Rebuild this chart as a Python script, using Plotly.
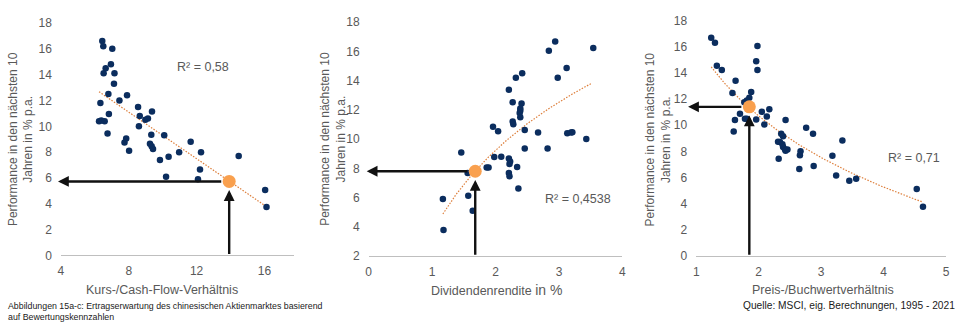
import numpy as np
import plotly.graph_objects as go

# --- Kurs-/Cash-Flow-Verhältnis vs. Performance der nächsten 10 Jahre ---
kcf_x = [6.44, 6.50, 7.03, 6.95, 6.64, 6.52, 7.16, 7.13, 6.80, 7.45, 7.90, 6.33, 6.83, 6.25,
         6.38, 6.58, 6.75, 8.55, 8.65, 8.60, 8.98, 9.13, 9.37, 9.33, 7.85, 7.75, 8.02, 9.25,
         9.35, 9.43, 10.09, 9.84, 10.35, 10.20, 10.97, 11.65, 12.26, 12.20, 12.08, 14.48,
         16.04, 16.12]
kcf_y = [16.6, 16.2, 16.0, 14.8, 14.5, 14.1, 14.1, 13.3, 12.5, 12.0, 12.4, 11.8, 10.95, 10.4,
         10.45, 10.4, 9.45, 11.5, 10.8, 10.0, 10.5, 10.6, 11.15, 9.35, 9.05, 8.75, 8.1, 8.65,
         8.45, 8.25, 9.3, 7.4, 7.65, 6.1, 8.0, 8.8, 8.0, 6.65, 5.9, 7.7,
         5.07, 3.75]
kcf_now = (13.92, 5.73)
kcf_trend = (18.31, -0.9015)          # linear: a + b*x
kcf_trend_span = (6.25, 16.2)
kcf_r2 = "R² = 0,58"

# --- Dividendenrendite vs. Performance ---
dy_x = [2.94, 2.84, 3.54, 3.12, 2.98, 2.32, 2.42, 2.21, 2.27, 2.41, 2.39, 2.39, 2.38, 2.39,
        2.27, 2.28, 1.96, 2.04, 2.46, 2.67, 3.13, 3.19, 3.21, 3.43, 2.46, 2.82, 1.46, 1.98,
        2.09, 2.21, 2.23, 2.22, 1.86, 1.89, 2.34, 2.21, 2.22, 1.56, 2.36, 1.57, 1.17, 1.64,
        1.18]
dy_y = [16.67, 16.04, 16.23, 14.86, 14.2, 14.2, 14.5, 13.37, 12.52, 12.43, 12.09, 11.93, 11.78,
        11.5, 11.21, 11.02, 10.84, 10.54, 10.62, 10.45, 10.4, 10.45, 10.47, 10.01, 9.36, 9.36,
        9.09, 8.77, 8.79, 8.68, 8.46, 8.29, 8.05, 8.05, 8.09, 7.68, 7.46, 7.68, 6.63, 6.13,
        5.91, 5.1, 3.79]
dy_now = (1.68, 7.8)
dy_trend = (3.606, 8.124)             # logarithmic: a + b*ln(x)
dy_trend_span = (1.17, 3.52)
dy_r2 = "R² = 0,4538"

# --- Preis-/Buchwertverhältnis vs. Performance ---
pb_x = [1.24, 1.30, 1.33, 1.41, 1.98, 1.96, 1.98, 1.63, 1.58, 1.88, 1.85, 1.81, 1.77, 1.70,
        1.62, 1.60, 1.78, 1.81, 1.96, 2.05, 2.17, 2.13, 2.09, 2.43, 2.36, 2.39, 2.31, 2.34,
        2.38, 2.39, 2.42, 2.46, 2.43, 2.32, 2.76, 2.87, 3.34, 2.67, 2.66, 2.65, 2.88, 3.18,
        3.24, 3.45, 3.56, 4.53, 4.63]
pb_y = [16.68, 16.29, 14.54, 14.22, 16.05, 14.88, 14.22, 13.39, 12.46, 12.54, 12.1, 11.88,
        11.75, 10.88, 10.39, 9.51, 10.49, 10.49, 10.44, 11.02, 11.22, 10.66, 10.05, 10.39,
        9.34, 9.15, 8.73, 8.71, 8.54, 8.34, 8.17, 8.15, 8.05, 7.44, 9.80, 9.34, 8.83, 8.0,
        7.71, 6.66, 6.88, 7.66, 6.15, 5.76, 5.90, 5.12, 3.78]
pb_now = (1.85, 11.4)
pb_trend = (16.14, -7.84)             # logarithmic: a + b*ln(x)
pb_trend_span = (1.24, 4.62)
pb_r2 = "R² = 0,71"

y_title = "Performance in den nächsten 10<br>Jahren in % p.a."

NAVY = "#0B2D5E"
ORANGE = "#F9A04E"
TREND = "#DD7E3A"
GREY = "#595959"
FONT = "Liberation Sans, Arial, sans-serif"

W, H = 963, 335

fig = go.Figure()

panels = [
    dict(x=kcf_x, y=kcf_y, now=kcf_now, trend=kcf_trend, span=kcf_trend_span, kind="lin",
         r2=kcf_r2, r2pos=(12.4, 14.56), xr=[4, 17.75], x0=4, dx=4, yr=[0, 18],
         xdom=(58.3, 293.3), ydom=(259.3, 16.7),
         xtitle="Kurs-/Cash-Flow-Verhältnis", xtitle_c=160, ytitle_c=18,
         harrow_tip=3.83),
    dict(x=dy_x, y=dy_y, now=dy_now, trend=dy_trend, span=dy_trend_span, kind="log",
         r2=dy_r2, r2pos=(3.30, 5.93), xr=[0, 4], x0=0, dx=1, yr=[2, 18],
         xdom=(368.3, 624.0), ydom=(260.0, 15.7),
         xtitle="Dividendenrendite <span style='font-size:14px'>in %</span>",
         xtitle_c=497, ytitle_c=333, harrow_tip=-0.03),
    dict(x=pb_x, y=pb_y, now=pb_now, trend=pb_trend, span=pb_trend_span, kind="log",
         r2=pb_r2, r2pos=(4.48, 7.53), xr=[1, 5], x0=1, dx=1, yr=[0, 18],
         xdom=(698.3, 950.0), ydom=(260.0, 14.0),
         xtitle="Preis-/Buchwertverhältnis", xtitle_c=826, ytitle_c=660,
         harrow_tip=0.87),
]

annotations = []
for i, p in enumerate(panels, start=1):
    xa = "x" if i == 1 else f"x{i}"
    ya = "y" if i == 1 else f"y{i}"

    # trend line from the regression coefficients
    tx = np.linspace(p["span"][0], p["span"][1], 120)
    a, b = p["trend"]
    ty = a + b * tx if p["kind"] == "lin" else a + b * np.log(tx)
    fig.add_trace(go.Scatter(x=tx, y=ty, mode="lines", xaxis=xa, yaxis=ya,
                             line=dict(color=TREND, width=1.2, dash="1.5px,1.5px"),
                             hoverinfo="skip", showlegend=False))
    # observations
    fig.add_trace(go.Scatter(x=p["x"], y=p["y"], mode="markers", xaxis=xa, yaxis=ya,
                             marker=dict(color=NAVY, size=6.5), showlegend=False))

    # pixel-to-data helpers for arrow geometry
    px_per_x = (p["xdom"][1] - p["xdom"][0]) / (p["xr"][1] - p["xr"][0])
    px_per_y = (p["ydom"][0] - p["ydom"][1]) / (p["yr"][1] - p["yr"][0])
    nx, ny = p["now"]
    r_px = 6.5

    # horizontal arrow to the y axis
    annotations.append(dict(x=p["harrow_tip"], y=ny, ax=nx - r_px / px_per_x, ay=ny,
                            xref=xa, yref=ya, axref=xa, ayref=ya, text="",
                            showarrow=True, arrowhead=2, arrowsize=0.9, arrowwidth=2.4,
                            arrowcolor="#111111", standoff=0, startstandoff=0))
    # vertical arrow from the x axis
    annotations.append(dict(x=nx, y=ny - (r_px + 2.5) / px_per_y, ax=nx, ay=p["yr"][0],
                            xref=xa, yref=ya, axref=xa, ayref=ya, text="",
                            showarrow=True, arrowhead=2, arrowsize=0.9, arrowwidth=2.4,
                            arrowcolor="#111111", standoff=0, startstandoff=0))

    # R² label
    annotations.append(dict(x=p["r2pos"][0], y=p["r2pos"][1], xref=xa, yref=ya,
                            text=p["r2"], showarrow=False,
                            font=dict(family=FONT, size=12.5, color=GREY)))
    # axis titles
    annotations.append(dict(x=p["xtitle_c"] / W, y=1 - 295 / H, xref="paper", yref="paper",
                            text=p["xtitle"], showarrow=False, xanchor="center",
                            yanchor="middle", font=dict(family=FONT, size=12.5, color=GREY)))
    annotations.append(dict(x=p["ytitle_c"] / W, y=1 - 138 / H, xref="paper", yref="paper",
                            text=y_title, showarrow=False, textangle=-90,
                            xanchor="center", yanchor="middle",
                            font=dict(family=FONT, size=12, color=GREY)))

    axis_common = dict(showgrid=False, zeroline=False, ticks="",
                       tickfont=dict(family=FONT, size=12, color=GREY))
    fig.update_layout({
        f"xaxis{'' if i == 1 else i}": dict(
            axis_common, domain=[p["xdom"][0] / W, p["xdom"][1] / W], range=p["xr"],
            tick0=p["x0"], dtick=p["dx"], anchor=ya, showline=True,
            linecolor="#BFBFBF", linewidth=1, ticklabelstandoff=4),
        f"yaxis{'' if i == 1 else i}": dict(
            axis_common, domain=[1 - p["ydom"][0] / H, 1 - p["ydom"][1] / H], range=p["yr"],
            dtick=2, anchor=xa, showline=False, ticklabelstandoff=8),
    })

# the current valuation points sit on top of everything else
for i, p in enumerate(panels, start=1):
    xa = "x" if i == 1 else f"x{i}"
    ya = "y" if i == 1 else f"y{i}"
    fig.add_trace(go.Scatter(x=[p["now"][0]], y=[p["now"][1]], mode="markers",
                             xaxis=xa, yaxis=ya, cliponaxis=False,
                             marker=dict(color=ORANGE, size=13), showlegend=False))

# footnotes
note_font = dict(family=FONT, size=8.8, color="#1A1A1A")
annotations.append(dict(x=3 / W, y=1 - 312 / H, xref="paper", yref="paper",
                        text="Abbildungen 15a-c: Ertragserwartung des chinesischen Aktienmarktes basierend",
                        showarrow=False, xanchor="left", yanchor="middle", font=note_font))
annotations.append(dict(x=3 / W, y=1 - 324 / H, xref="paper", yref="paper",
                        text="auf Bewertungskennzahlen",
                        showarrow=False, xanchor="left", yanchor="middle", font=note_font))
annotations.append(dict(x=961 / W, y=1 - 312 / H, xref="paper", yref="paper",
                        text="Quelle: MSCI, eig. Berechnungen, 1995 - 2021",
                        showarrow=False, xanchor="right", yanchor="middle",
                        font=dict(family=FONT, size=10.2, color="#1A1A1A")))

fig.update_layout(width=W, height=H, margin=dict(l=0, r=0, t=0, b=0),
                  paper_bgcolor="white", plot_bgcolor="white",
                  annotations=annotations, showlegend=False)

fig.write_html("out.html")
